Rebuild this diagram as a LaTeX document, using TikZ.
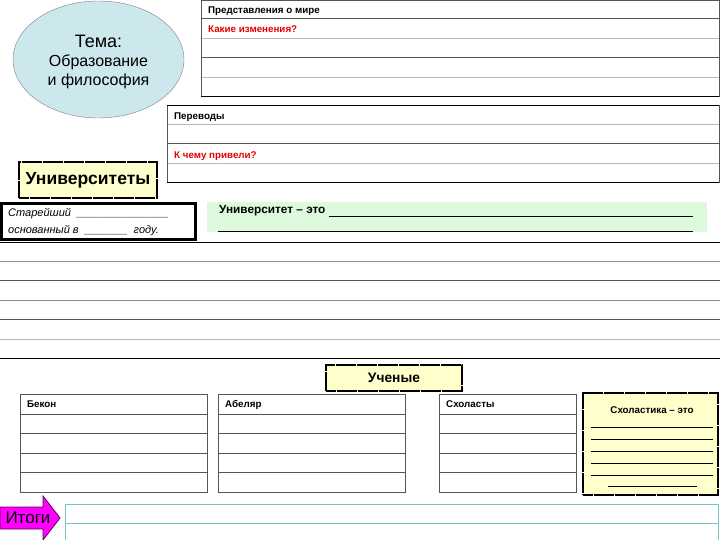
\documentclass[tikz,border=0pt]{standalone}
\usepackage{fontspec}
\setmainfont{Liberation Sans}
\usetikzlibrary{shapes.geometric}
\definecolor{ellfill}{RGB}{204,232,236}
\definecolor{noteyellow}{RGB}{255,255,204}
\definecolor{notegreen}{RGB}{221,250,221}
\definecolor{darkrule}{RGB}{85,85,85}
\definecolor{midrule}{RGB}{140,140,140}
\definecolor{lightrule}{RGB}{185,185,185}
\definecolor{tealrule}{RGB}{120,196,200}
\definecolor{arrowpink}{RGB}{255,0,255}
\definecolor{qred}{RGB}{230,0,0}
\begin{document}
\begin{tikzpicture}[x=1pt,y=-1pt,
    hdr/.style={anchor=base west,inner sep=0pt,font=\fontsize{9.8}{11}\selectfont\bfseries},
    qtext/.style={hdr,text=qred},
    frame/.style={draw=darkrule,line width=1pt},
    note/.style={fill=noteyellow,draw=black,line width=1.6pt,dash pattern=on 5pt off 0.25pt,inner sep=0pt},
    blank/.style={black,line width=0.6pt}
]
\useasboundingbox (0,0) rectangle (720,540);
% theme
\node[ellipse,fill=ellfill,draw=gray,minimum width=171pt,minimum height=117pt] (tema) at (98.5,59.5) {};
\node[align=center,inner sep=0pt,font=\fontsize{16}{19}\selectfont] (tematxt) at (98.5,62)
      {{\fontsize{18}{19}\selectfont Тема:}\\Образование\\и философия};
% world view table
\foreach \y/\c in {19/darkrule,39/lightrule,58/darkrule,78/lightrule}
    \draw[\c,line width=1pt] (201,\y) -- (719,\y);
\draw[frame] (201,0.5) rectangle (719,97);
\draw[black,line width=1pt] (201,97) -- (719,97);
\node[hdr] (mir) at (208,13.5) {Представления о мире};
\node[qtext] (izm) at (208,32.5) {Какие изменения?};
% translations table
\foreach \y/\c in {125/lightrule,144/darkrule,164/lightrule}
    \draw[\c,line width=1pt] (167,\y) -- (719,\y);
\draw[frame] (167,106) rectangle (719,183);
\draw[black,line width=1pt] (167,106) -- (719,106) (167,183) -- (719,183);
\node[hdr] (perev) at (174,119.5) {Переводы};
\node[qtext] (priv) at (174,158.5) {К чему привели?};
% universities
\node[note,minimum width=138pt,minimum height=36pt,font=\fontsize{17.5}{19}\selectfont\bfseries]
      (univ) at (88,180) {Университеты};
\draw[black,line width=3pt] (1.5,203.5) rectangle (195.5,239.5);
\node[anchor=west,inner sep=0pt,font=\fontsize{11}{13}\selectfont\itshape] (star) at (8,214)
      {Старейший \ \_\_\_\_\_\_\_\_\_\_\_\_\_\_\_};
\node[anchor=west,inner sep=0pt,font=\fontsize{11}{13}\selectfont\itshape] (osn) at (8,231)
      {основанный в \ \_\_\_\_\_\_\_ \ году.};
\fill[notegreen] (207,202) rectangle (707,232);
\node[anchor=west,inner sep=0pt,font=\fontsize{11.8}{13}\selectfont\bfseries] (eto) at (219,211)
      {Университет – это};
\coordinate (etoend) at (693,216);
\coordinate (line2a) at (218,231);
\coordinate (line2b) at (693,231);
\draw[blank] (eto.east |- etoend) ++(3,0) -- (etoend);
\draw[blank] (line2a) -- (line2b);
% big table
\foreach \y/\c in {261/midrule,280/darkrule,300/midrule,319/darkrule,339/lightrule}
    \draw[\c,line width=1pt] (0,\y) -- (720,\y);
\draw[black,line width=1pt] (0,242) -- (720,242) (0,358) -- (720,358);
% scholars
\node[note,minimum width=136pt,minimum height=26pt,font=\fontsize{13.8}{15}\selectfont\bfseries]
      (uch) at (394,378) {Ученые};
\foreach \xa/\xb/\tag/\txt in {20/207/bekon/Бекон,218/405/abel/Абеляр,439/576/schol/Схоласты}{
    \foreach \y in {414,433,453,472}
        \draw[darkrule,line width=1pt] (\xa,\y) -- (\xb,\y);
    \draw[frame] (\xa,394) rectangle (\xb,492);
    \node[hdr] (\tag) at (\xa+7,407.5) {\txt};
}
\node[note,minimum width=135pt,minimum height=102pt] (schbox) at (650.5,444) {};
\node[inner sep=0pt,font=\fontsize{9.8}{11}\selectfont\bfseries] (scheto) at (652,410) {Схоластика – это};
\foreach \y in {427,439,451,463,475}
    \draw[blank] (591,\y) -- (713,\y);
\draw[blank] (608,486) -- (697,486);
% results
\draw[tealrule,line width=1pt] (65,540) -- (65,504) -- (718,504) -- (718,540) (65,523) -- (718,523);
\draw[fill=arrowpink,draw=violet!70!black,line width=0.8pt]
      (0,507) -- (43,507) -- (43,496) -- (60,518) -- (43,540) -- (43,529) -- (0,529) -- cycle;
\node[inner sep=0pt,font=\fontsize{17}{19}\selectfont] (itogi) at (28,518) {Итоги};
\end{tikzpicture}
\end{document}
